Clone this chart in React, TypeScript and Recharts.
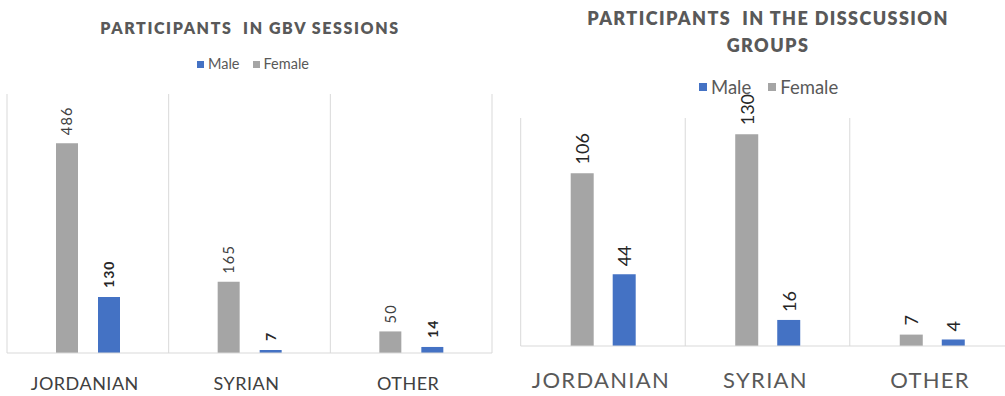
import React from 'react';
import { BarChart, Bar, XAxis, YAxis, CartesianGrid, LabelList } from 'recharts';

// Nationality groups shown on both charts
const categories = ['JORDANIAN', 'SYRIAN', 'OTHER'];

// Participants in GBV sessions
const gbvFemale = [486, 165, 50];
const gbvMale = [130, 7, 14];

// Participants in the discussion groups
const groupFemale = [106, 130, 7];
const groupMale = [44, 16, 4];

const MALE_COLOR = '#4472c4';
const FEMALE_COLOR = '#a5a5a5';
const GRID_COLOR = '#d9d9d9';
const FONT = 'Lato, "Open Sans", sans-serif';

const gbvData = categories.map((name, i) => ({ name, female: gbvFemale[i], male: gbvMale[i] }));
const groupData = categories.map((name, i) => ({ name, female: groupFemale[i], male: groupMale[i] }));

// Vertical separators at the category boundaries instead of the centres
const boundaryLines = ({ offset }: any) =>
  [0, 1, 2, 3].map((i) => offset.left + (i * offset.width) / 3);

type LabelStyle = { fontSize: number; fontWeight?: number; letterSpacing?: number; fill: string; gap: number };

// Value label written bottom-to-top just above the bar
const rotatedLabel = (s: LabelStyle) => (props: any) => {
  const { x, y, width, value } = props;
  const cx = Number(x) + Number(width) / 2;
  const ty = Number(y) - s.gap;
  return (
    <text
      x={cx}
      y={ty}
      transform={`rotate(-90 ${cx} ${ty})`}
      textAnchor="start"
      dominantBaseline="central"
      fontFamily={FONT}
      fontSize={s.fontSize}
      fontWeight={s.fontWeight ?? 400}
      letterSpacing={s.letterSpacing ?? 0}
      fill={s.fill}
    >
      {value}
    </text>
  );
};

const categoryTick = (fontSize: number, letterSpacing: number, fill: string, dy: number, dx: number) => (props: any) => {
  const { x, y, payload } = props;
  return (
    <text
      x={Number(x) + dx}
      y={Number(y) + dy}
      textAnchor="middle"
      dominantBaseline="central"
      fontFamily={FONT}
      fontSize={fontSize}
      letterSpacing={letterSpacing}
      fill={fill}
    >
      {payload.value}
    </text>
  );
};

const Legend = ({ left, cy, fontSize, square, gap }: { left: number; cy: number; fontSize: number; square: number; gap: number }) => {
  const h = fontSize * 1.2;
  const item = (color: string, label: string) => (
    <div style={{ display: 'flex', alignItems: 'center' }}>
      <div style={{ width: square, height: square, background: color, marginRight: 4 }} />
      <span style={{ lineHeight: `${h}px` }}>{label}</span>
    </div>
  );
  return (
    <div
      style={{
        position: 'absolute',
        left,
        top: cy - h / 2,
        height: h,
        display: 'flex',
        alignItems: 'center',
        gap,
        fontFamily: FONT,
        fontSize,
        color: '#595959',
      }}
    >
      {item(MALE_COLOR, 'Male')}
      {item(FEMALE_COLOR, 'Female')}
    </div>
  );
};

const titleStyle = (fontSize: number, letterSpacing: number): React.CSSProperties => ({
  fontFamily: FONT,
  fontWeight: 800,
  fontSize,
  letterSpacing,
  color: '#595959',
  textAlign: 'center',
  whiteSpace: 'pre',
});

export default function App() {
  return (
    <div
      style={{
        position: 'absolute',
        left: 0,
        top: 0,
        width: 1005,
        height: 396,
        overflow: 'hidden',
        background: '#ffffff',
      }}
    >
      {/* Left chart: GBV sessions */}
      <div style={{ position: 'absolute', left: 0, top: 17.5, width: 500, lineHeight: '19.2px', ...titleStyle(16, 1.6) }}>
        {'PARTICIPANTS  IN GBV SESSIONS'}
      </div>
      <Legend left={197} cy={64} fontSize={14.5} square={7} gap={13} />
      <div style={{ position: 'absolute', left: 0, top: 0 }}>
        <BarChart
          width={500}
          height={396}
          data={gbvData}
          margin={{ top: 94, right: 8, bottom: 0, left: 7 }}
          barGap={20}
        >
          <CartesianGrid
            horizontal={false}
            stroke={GRID_COLOR}
            verticalCoordinatesGenerator={boundaryLines}
          />
          <XAxis
            dataKey="name"
            height={43}
            tickSize={0}
            tickMargin={0}
            tickLine={false}
            axisLine={{ stroke: GRID_COLOR }}
            tick={categoryTick(18, 0.5, '#404040', 29.5, -3)}
            interval={0}
          />
          <YAxis hide domain={[0, 600]} />
          <Bar dataKey="female" fill={FEMALE_COLOR} barSize={22} isAnimationActive={false}>
            <LabelList dataKey="female" content={rotatedLabel({ fontSize: 14.5, letterSpacing: 1.2, fill: '#404040', gap: 8 })} />
          </Bar>
          <Bar dataKey="male" fill={MALE_COLOR} barSize={22} isAnimationActive={false}>
            <LabelList dataKey="male" content={rotatedLabel({ fontSize: 14, fontWeight: 700, letterSpacing: 1, fill: '#262626', gap: 9 })} />
          </Bar>
        </BarChart>
      </div>

      {/* Right chart: discussion groups */}
      <div style={{ position: 'absolute', left: 518, top: 5, width: 500, lineHeight: '27px', ...titleStyle(18, 1.4) }}>
        <div>{'PARTICIPANTS  IN THE DISSCUSSION'}</div>
        <div>GROUPS</div>
      </div>
      <Legend left={699} cy={87} fontSize={18.5} square={8} gap={17} />
      <div style={{ position: 'absolute', left: 500, top: 0 }}>
        <BarChart
          width={520}
          height={396}
          data={groupData}
          margin={{ top: 118, right: 5.7, bottom: 0, left: 20.7 }}
          barGap={19}
        >
          <CartesianGrid
            horizontal={false}
            stroke={GRID_COLOR}
            verticalCoordinatesGenerator={boundaryLines}
          />
          <XAxis
            dataKey="name"
            height={50}
            tickSize={0}
            tickMargin={0}
            tickLine={false}
            axisLine={{ stroke: GRID_COLOR }}
            tick={categoryTick(22, 1.3, '#595959', 33.5, -2)}
            interval={0}
          />
          <YAxis hide domain={[0, 140]} />
          <Bar dataKey="female" fill={FEMALE_COLOR} barSize={23} isAnimationActive={false}>
            <LabelList dataKey="female" content={rotatedLabel({ fontSize: 18, fill: '#262626', gap: 9 })} />
          </Bar>
          <Bar dataKey="male" fill={MALE_COLOR} barSize={23} isAnimationActive={false}>
            <LabelList dataKey="male" content={rotatedLabel({ fontSize: 18, fill: '#262626', gap: 8 })} />
          </Bar>
        </BarChart>
      </div>
    </div>
  );
}
